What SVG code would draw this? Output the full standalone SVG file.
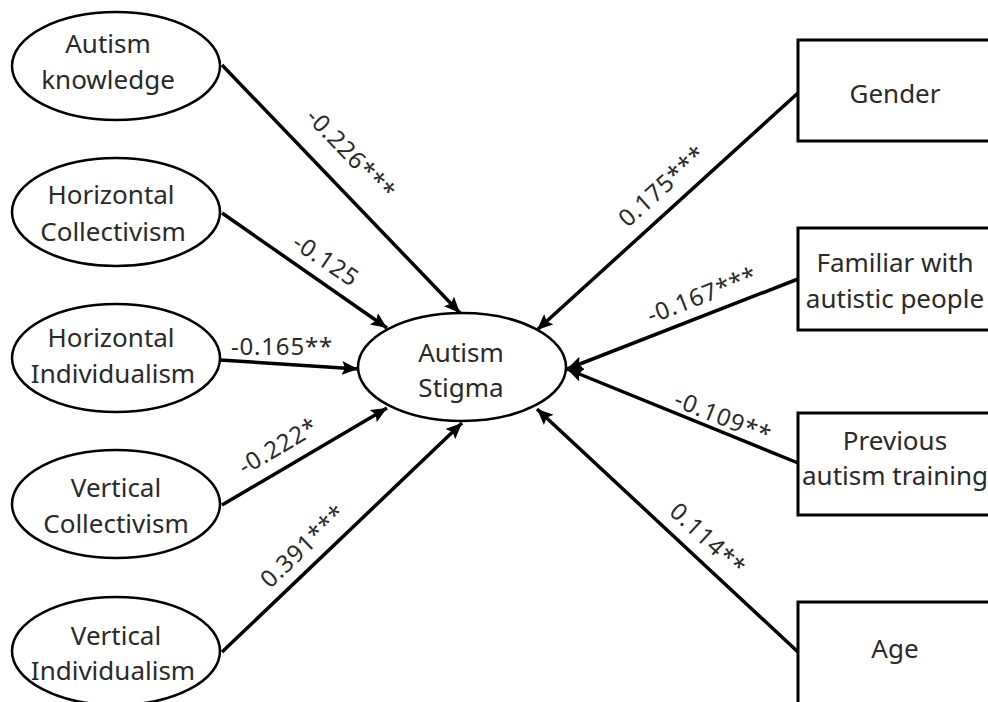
<svg xmlns="http://www.w3.org/2000/svg" width="988" height="702" viewBox="0 0 988 702">
<style>
.nd{fill:#fff;stroke:#000;stroke-width:2.5}
.bx{fill:#fff;stroke:#000;stroke-width:3}
.t{font-family:"Noto Sans","Open Sans",sans-serif;font-size:26px;fill:#2a2a2a;text-anchor:middle}
.lb{font-family:"Noto Sans","Open Sans",sans-serif;font-size:24px;fill:#2a2a2a;text-anchor:middle;letter-spacing:0.8px}
.ar{stroke:#000;stroke-width:3.5;fill:none;marker-end:url(#ah)}
</style>
<defs>
<marker id="ah" markerUnits="userSpaceOnUse" markerWidth="18" markerHeight="14" refX="16" refY="7" orient="auto">
<path d="M0,0 L16,7 L0,14 L3,7 z" fill="#000"/>
</marker>
</defs>
<rect width="988" height="702" fill="#fff"/>
<g id="connectors">
<path class="ar" d="M222,65 L460,313"/>
<path class="ar" d="M222,213 L387,328"/>
<path class="ar" d="M220,360 L358,369"/>
<path class="ar" d="M222,505 L387,408"/>
<path class="ar" d="M222,652 L462,423"/>
<path class="ar" d="M798,93 L537,330"/>
<path class="ar" d="M798,279 L567,369"/>
<path class="ar" d="M798,463 L567,369"/>
<path class="ar" d="M798,652 L537,409"/>
</g>
<g id="labels">
<text class="lb" transform="translate(351,154) rotate(46)" y="8.5">-0.226***</text>
<text class="lb" transform="translate(326,260) rotate(34)" y="8.5">-0.125</text>
<text class="lb" x="282" y="355">-0.165**</text>
<text class="lb" transform="translate(278,446) rotate(-30.4)" y="8.5">-0.222*</text>
<text class="lb" transform="translate(303,546) rotate(-43.7)" y="8.5">0.391***</text>
<text class="lb" transform="translate(662,186) rotate(-42)" y="8.5">0.175***</text>
<text class="lb" transform="translate(702,295) rotate(-21.3)" y="8.5">-0.167***</text>
<text class="lb" transform="translate(723,417) rotate(22)" y="8.5">-0.109**</text>
<text class="lb" transform="translate(708,539) rotate(43)" y="8.5">0.114**</text>
</g>
<g id="autism-knowledge">
<ellipse class="nd" cx="116" cy="66" rx="104" ry="54"/>
<text class="t" x="108" y="53">Autism</text>
<text class="t" x="108" y="89">knowledge</text>
</g>
<g id="horizontal-collectivism">
<ellipse class="nd" cx="116" cy="212" rx="104" ry="54"/>
<text class="t" x="111" y="204">Horizontal</text>
<text class="t" x="113" y="241">Collectivism</text>
</g>
<g id="horizontal-individualism">
<ellipse class="nd" cx="116" cy="358" rx="104" ry="54"/>
<text class="t" x="111" y="347">Horizontal</text>
<text class="t" x="113" y="383">Individualism</text>
</g>
<g id="vertical-collectivism">
<ellipse class="nd" cx="116" cy="504" rx="104" ry="54"/>
<text class="t" x="116" y="497">Vertical</text>
<text class="t" x="116" y="533">Collectivism</text>
</g>
<g id="vertical-individualism">
<ellipse class="nd" cx="116" cy="651" rx="104" ry="54"/>
<text class="t" x="116" y="645">Vertical</text>
<text class="t" x="113" y="680">Individualism</text>
</g>
<g id="autism-stigma">
<ellipse class="nd" cx="462" cy="367" rx="104" ry="54"/>
<text class="t" x="461" y="362">Autism</text>
<text class="t" x="461" y="397">Stigma</text>
</g>
<g id="gender">
<rect class="bx" x="798" y="40" width="200" height="101"/>
<text class="t" x="895" y="103">Gender</text>
</g>
<g id="familiar">
<rect class="bx" x="798" y="228" width="200" height="102"/>
<text class="t" x="895" y="272">Familiar with</text>
<text class="t" x="895" y="308">autistic people</text>
</g>
<g id="previous-training">
<rect class="bx" x="798" y="413" width="200" height="102"/>
<text class="t" x="895" y="450">Previous</text>
<text class="t" x="895" y="485">autism training</text>
</g>
<g id="age">
<rect class="bx" x="798" y="602" width="200" height="110"/>
<text class="t" x="895" y="658">Age</text>
</g>
</svg>
